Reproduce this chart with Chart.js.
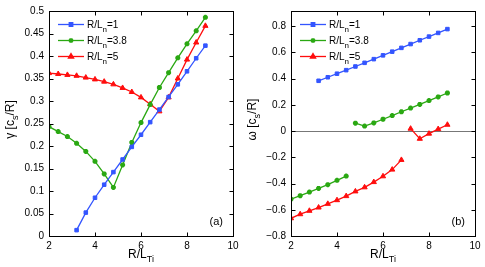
<!DOCTYPE html>
<html lang="en">
<head>
<meta charset="UTF-8">
<title>Growth rate and frequency vs R/LTi</title>
<script src="https://cdn.jsdelivr.net/npm/chart.js@4.4.2/dist/chart.umd.min.js"></script>
<style>
  body { margin: 0; background: #fff; }
  .panel { position: absolute; top: 0; }
</style>
</head>
<body>
<canvas id="gammaChart" class="panel" width="243" height="267" style="left:0px"></canvas>
<canvas id="omegaChart" class="panel" width="242" height="267" style="left:243px"></canvas>

<script>
// --- Data ---
const xFull = [2.0, 2.4, 2.8, 3.2, 3.6, 4.0, 4.4, 4.8, 5.2, 5.6, 6.0, 6.4, 6.8, 7.2, 7.6, 8.0, 8.4, 8.8];
const xLn1  = [3.2, 3.6, 4.0, 4.4, 4.8, 5.2, 5.6, 6.0, 6.4, 6.8, 7.2, 7.6, 8.0, 8.4, 8.8];

// (a) growth rate gamma
const gammaLn1  = [0.013, 0.052, 0.085, 0.114, 0.142, 0.170, 0.198, 0.225, 0.253, 0.281, 0.309, 0.337, 0.366, 0.395, 0.423];
const gammaLn38 = [0.243, 0.232, 0.221, 0.206, 0.188, 0.166, 0.138, 0.108, 0.158, 0.208, 0.252, 0.292, 0.330, 0.363, 0.396, 0.427, 0.456, 0.486];
const gammaLn5  = [0.362, 0.360, 0.358, 0.356, 0.352, 0.348, 0.343, 0.337, 0.329, 0.320, 0.308, 0.293, 0.277, 0.308, 0.350, 0.392, 0.430, 0.467];

// (b) real frequency omega
const omegaLn1  = [0.383, 0.410, 0.437, 0.464, 0.492, 0.520, 0.548, 0.577, 0.605, 0.634, 0.663, 0.692, 0.720, 0.748, 0.777];
const omegaLn38 = [-0.519, -0.493, -0.465, -0.437, -0.409, -0.376, -0.343, 0.060, 0.038, 0.062, 0.090, 0.118, 0.147, 0.175, 0.203, 0.232, 0.260, 0.290];
const omegaLn5  = [-0.665, -0.634, -0.608, -0.583, -0.555, -0.527, -0.496, -0.460, -0.429, -0.389, -0.345, -0.294, -0.220, 0.018, -0.059, -0.020, 0.015, 0.048];
// no line is drawn between a point at this x and the next one (mode jump)
const omegaLn38Gap = 4.4;
const omegaLn5Gap  = 6.8;

const xTicks     = [2, 4, 6, 8, 10];
const gammaTicks = [0, 0.05, 0.1, 0.15, 0.2, 0.25, 0.3, 0.35, 0.4, 0.45, 0.5];
const omegaTicks = [-0.8, -0.6, -0.4, -0.2, 0, 0.2, 0.4, 0.6, 0.8];

const seriesLabels = ['1', '3.8', '5'];

// --- Styles ---
const BLUE = '#3355ff';
const GREEN = '#2aa812';
const RED = '#ff0d0d';
const FONT = '"Liberation Sans", Arial, sans-serif';

function pairs(xs, ys) {
    return xs.map((x, i) => ({ x: x, y: ys[i] }));
}

function lineSet(label, xs, ys, color, style, gapAt) {
    const ds = {
        label: label,
        data: pairs(xs, ys),
        borderColor: color,
        backgroundColor: color,
        pointBackgroundColor: color,
        pointBorderColor: color,
        borderWidth: 1.3,
        pointStyle: style,
        pointRadius: style === 'triangle' ? 3 : 2.5,
        pointBorderWidth: style === 'star' ? 1.8 : 1,
        tension: 0
    };
    if (gapAt !== undefined) {
        ds.segment = {
            borderColor: c => (Math.abs(c.p0.parsed.x - gapAt) < 1e-6 ? 'rgba(0,0,0,0)' : undefined)
        };
    }
    return ds;
}

// text with a subscript part: parts = [[text, isSub], ...]
function drawSubText(ctx, parts, x, y, size, align) {
    const sub = Math.round(size * 0.75);
    let w = 0;
    parts.forEach(p => {
        ctx.font = (p[1] ? sub : size) + 'px ' + FONT;
        w += ctx.measureText(p[0]).width;
    });
    let cx = align === 'center' ? x - w / 2 : x;
    ctx.textAlign = 'left';
    ctx.textBaseline = 'alphabetic';
    parts.forEach(p => {
        ctx.font = (p[1] ? sub : size) + 'px ' + FONT;
        ctx.fillText(p[0], cx, p[1] ? y + size * 0.35 : y);
        cx += ctx.measureText(p[0]).width;
    });
}

// frame, inward ticks, axis titles, legend, panel letter
function decorPlugin(opts) {
    return {
        id: 'decor',
        beforeDatasetsDraw(chart) {
            if (!opts.zeroLine) return;
            const ctx = chart.ctx, a = chart.chartArea;
            const y0 = Math.round(chart.scales.y.getPixelForValue(0)) + 0.5;
            ctx.save();
            ctx.strokeStyle = '#777';
            ctx.lineWidth = 1;
            ctx.beginPath();
            ctx.moveTo(a.left, y0);
            ctx.lineTo(a.right, y0);
            ctx.stroke();
            ctx.restore();
        },
        afterDraw(chart) {
            const ctx = chart.ctx, a = chart.chartArea;
            const sx = chart.scales.x, sy = chart.scales.y;
            const L = Math.round(a.left) + 0.5, R = Math.round(a.right) + 0.5;
            const T = Math.round(a.top) + 0.5, B = Math.round(a.bottom) + 0.5;
            ctx.save();
            ctx.strokeStyle = '#000';
            ctx.lineWidth = 1;
            ctx.strokeRect(L, T, R - L, B - T);
            ctx.beginPath();
            xTicks.forEach(v => {
                const px = Math.round(sx.getPixelForValue(v)) + 0.5;
                ctx.moveTo(px, B); ctx.lineTo(px, B - 4);
                ctx.moveTo(px, T); ctx.lineTo(px, T + 4);
            });
            opts.yTicks.forEach(v => {
                const py = Math.round(sy.getPixelForValue(v)) + 0.5;
                ctx.moveTo(L, py); ctx.lineTo(L + 4, py);
                ctx.moveTo(R, py); ctx.lineTo(R - 4, py);
            });
            ctx.stroke();

            ctx.fillStyle = '#000';
            // x title
            drawSubText(ctx, [['R/L', false], ['Ti', true]], (a.left + a.right) / 2, 258, 12, 'center');
            // y title
            ctx.save();
            ctx.translate(opts.yTitleX, (a.top + a.bottom) / 2 - 4);
            ctx.rotate(-Math.PI / 2);
            drawSubText(ctx, [[opts.yTitle + ' [c', false], ['s', true], ['/R]', false]], 0, 0, 12, 'center');
            ctx.restore();

            // panel letter
            ctx.font = '11px ' + FONT;
            ctx.textAlign = 'right';
            ctx.textBaseline = 'middle';
            ctx.fillText(opts.panel, a.right - 10, 222);

            // legend
            const dsets = chart.data.datasets;
            const rowY = [24, 40, 56];
            const x0 = a.left + 9, x1 = a.left + 35;
            for (let i = 0; i < 3; i++) {
                const ds = dsets[i];
                const y = rowY[i] + 0.5;
                ctx.strokeStyle = ds.borderColor;
                ctx.lineWidth = 1.3;
                ctx.beginPath();
                ctx.moveTo(x0, y); ctx.lineTo(x1, y);
                ctx.stroke();
                ctx.fillStyle = ds.borderColor;
                ctx.strokeStyle = ds.borderColor;
                Chart.helpers.drawPoint(ctx, {
                    pointStyle: ds.pointStyle,
                    radius: ds.pointRadius,
                    borderWidth: ds.pointBorderWidth,
                    rotation: 0
                }, (x0 + x1) / 2, y);
                ctx.fillStyle = '#000';
                drawSubText(ctx, [['R/L', false], ['n', true], ['=' + seriesLabels[i], false]], x1 + 3, y + 3.5, 10, 'left');
            }
            ctx.restore();
        }
    };
}

function buildChart(id, datasets, yMin, yMax, yTicks, yFmt, yWidth, extra) {
    const canvas = document.getElementById(id);
    return new Chart(canvas.getContext('2d'), {
        type: 'line',
        data: { datasets: datasets },
        options: {
            responsive: false,
            animation: false,
            layout: { padding: { top: 11, right: canvas.width - (yWidth + 184), left: 0, bottom: 0 } },
            plugins: { legend: { display: false }, tooltip: { enabled: false } },
            scales: {
                x: {
                    type: 'linear', min: 2, max: 10,
                    afterBuildTicks: s => { s.ticks = xTicks.map(v => ({ value: v })); },
                    afterFit: s => { s.height = 31; },
                    grid: { display: false, drawTicks: false },
                    border: { display: false },
                    ticks: { padding: 4, color: '#000', maxRotation: 0, autoSkip: false,
                             font: { family: FONT, size: 10 } }
                },
                y: {
                    type: 'linear', min: yMin, max: yMax,
                    afterBuildTicks: s => { s.ticks = yTicks.map(v => ({ value: v })); },
                    afterFit: s => { s.width = yWidth; },
                    grid: { display: false, drawTicks: false },
                    border: { display: false },
                    ticks: { padding: 5, color: '#000', autoSkip: false, callback: yFmt,
                             font: { family: FONT, size: 10 } }
                }
            }
        },
        plugins: [decorPlugin(extra)]
    });
}

buildChart('gammaChart', [
    lineSet('R/Ln=1', xLn1, gammaLn1, BLUE, 'rect'),
    lineSet('R/Ln=3.8', xFull, gammaLn38, GREEN, 'star'),
    lineSet('R/Ln=5', xFull, gammaLn5, RED, 'triangle')
], 0, 0.5, gammaTicks, v => String(+v.toFixed(2)), 49,
   { yTicks: gammaTicks, yTitle: '\u03b3', yTitleX: 14, panel: '(a)', zeroLine: false });

buildChart('omegaChart', [
    lineSet('R/Ln=1', xLn1, omegaLn1, BLUE, 'rect'),
    lineSet('R/Ln=3.8', xFull, omegaLn38, GREEN, 'star', omegaLn38Gap),
    lineSet('R/Ln=5', xFull, omegaLn5, RED, 'triangle', omegaLn5Gap)
], -0.8, 0.915, omegaTicks, v => (v < 0 ? '\u2212' : '') + String(Math.abs(+v.toFixed(1))), 48,
   { yTicks: omegaTicks, yTitle: '\u03c9', yTitleX: 13, panel: '(b)', zeroLine: true });
</script>
</body>
</html>
